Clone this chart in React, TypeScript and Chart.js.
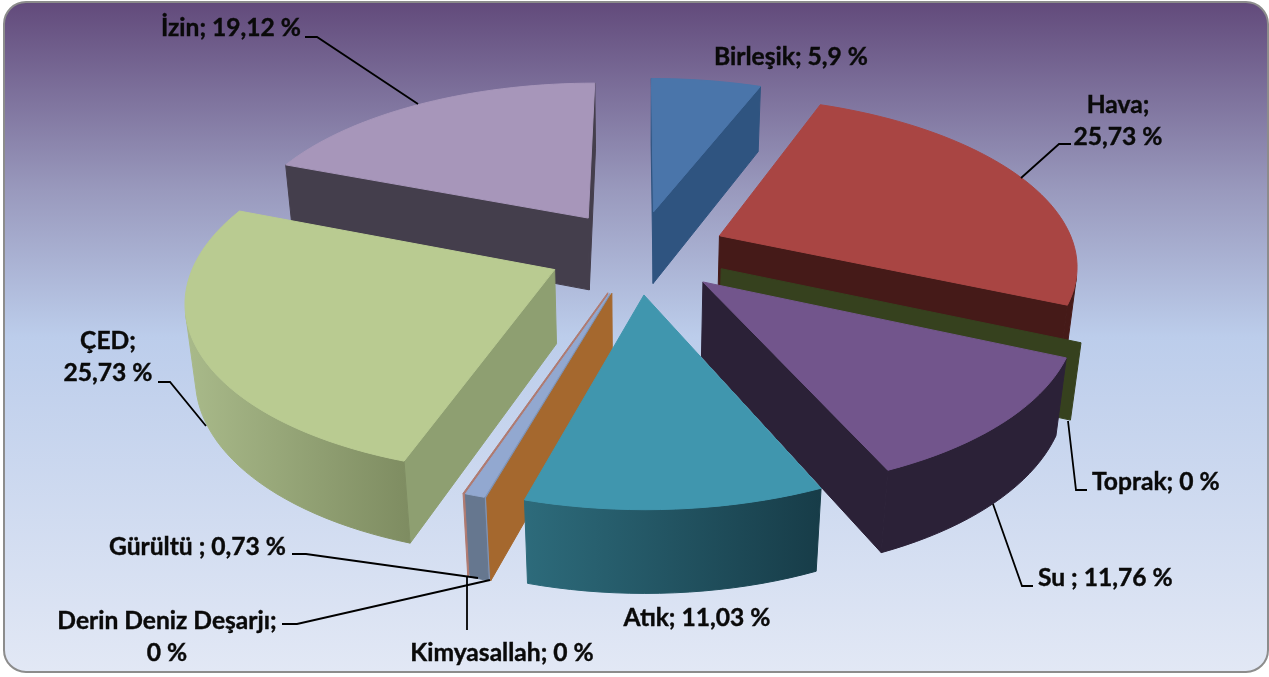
import React, { useEffect, useRef } from "react";
import { Chart, registerables } from "chart.js";

Chart.register(...registerables);

const categories = ["Birleşik", "Hava", "Toprak", "Su ", "Atık", "Kimyasallah", "Gürültü ", "Derin Deniz Deşarjı", "ÇED", "İzin"];
const values = [5.9, 25.73, 0, 11.76, 11.03, 0, 0.73, 0, 25.73, 19.12];
const topColors = ["#4a75aa", "#a94543", "#36411e", "#72558c", "#4096ae", "#a5682e", "#92a8d0", "#b07a70", "#b9cb91", "#a796ba"];
const edgeColors = ["#2f5480", "#451a18", "#36411e", "#2b2137", "#245462", "#a5682e", "#7f93b5", "#b07a70", "#8e9f71", "#443e4c"];
const rimStops = [
  ["#2f5480", "#2f5480"],
  ["#451a18", "#451a18"],
  ["#36411e", "#36411e"],
  ["#2b2137", "#2b2137"],
  ["#2d6b7b", "#173c48"],
  ["#a5682e", "#a5682e"],
  ["#66778f", "#66778f"],
  ["#b07a70", "#b07a70"],
  ["#a9ba8a", "#7e8c61"],
  ["#443e4c", "#443e4c"],
];

// anchor: x, y (middle of first line), align; extra line breaks; leader polyline
const labelLayout: any[] = [
  { x: 791, y: 57, a: "center", br: false, lead: [] },
  { x: 1118, y: 105, a: "center", br: true, lead: [[1071, 144], [1059, 144], [1021, 178]] },
  { x: 1092, y: 482, a: "left", br: false, lead: [[1087, 490], [1076, 490], [1068, 421]] },
  { x: 1038, y: 578, a: "left", br: false, lead: [[1033, 586], [1022, 586], [993, 504]] },
  { x: 697, y: 618, a: "center", br: false, lead: [] },
  { x: 502, y: 653, a: "center", br: false, lead: [[467, 630], [467, 576]] },
  { x: 109, y: 547, a: "left", br: false, lead: [[292, 554], [306, 554], [478, 578]] },
  { x: 167, y: 621, a: "center", br: true, lead: [[282, 624], [297, 624], [490, 580]] },
  { x: 108, y: 341, a: "center", br: true, lead: [[158, 382], [170, 382], [206, 426]] },
  { x: 231, y: 28, a: "center", br: false, lead: [[305, 37], [317, 37], [418, 104]] },
];

const FONT = 'bold 24.6px Lato, "Noto Sans", sans-serif';
const EXPLODE = 90;
const PERSP = 0.00044;
const PERSP_Z = 0.0003;
const TILT = 0.465;
const DEPTH = 75;
const STEP = Math.PI / 90;

function fmt(v: number) {
  return String(v).replace(".", ",");
}

const pie3d = {
  id: "pie3d",
  beforeDraw(chart: any) {
    const ctx = chart.ctx;
    const g = ctx.createLinearGradient(0, 2, 0, 672);
    g.addColorStop(0, "#624a7b");
    g.addColorStop(0.28, "#9999bd");
    g.addColorStop(0.5, "#bccdeb");
    g.addColorStop(1, "#e2e8f5");
    ctx.save();
    ctx.beginPath();
    ctx.roundRect(4, 2, 1264, 670, 22);
    ctx.fillStyle = g;
    ctx.fill();
    ctx.lineWidth = 2;
    ctx.strokeStyle = "#8c8c8c";
    ctx.stroke();
    ctx.restore();
  },
  beforeDatasetsDraw(chart: any) {
    const ctx = chart.ctx;
    const meta = chart.getDatasetMeta(0);
    const arcs = meta.data;
    const cx0 = arcs[0].x + 3;
    const cy0 = arcs[0].y - 87;
    const R = arcs[0].outerRadius * 1.053;
    const proj = (X: number, Y: number, Z: number) => {
      const w = 1 - PERSP * Y + PERSP_Z * Z;
      return [cx0 + X / w, cy0 + (TILT * Y + Z) / w];
    };
    const area = (q: number[][]) => {
      let s = 0;
      q.forEach((p, i) => {
        const n = q[(i + 1) % q.length];
        s += p[0] * n[1] - n[0] * p[1];
      });
      return s;
    };
    const fillPoly = (q: number[][], color: any) => {
      ctx.beginPath();
      q.forEach((p, i) => (i ? ctx.lineTo(p[0], p[1]) : ctx.moveTo(p[0], p[1])));
      ctx.closePath();
      ctx.fillStyle = color;
      ctx.fill();
      ctx.strokeStyle = color;
      ctx.lineWidth = 1;
      ctx.stroke();
    };
    const items = arcs.map((arc: any, i: number) => {
      const a0 = arc.startAngle;
      const a1 = arc.endAngle;
      const mid = (a0 + a1) / 2;
      return { arc, i, a0, a1, mid, key: Math.sin(mid) };
    });
    items.sort((p: any, q: any) => p.key - q.key);
    items.forEach(({ arc, i, a0, a1, mid }: any) => {
      const ox = Math.cos(mid) * EXPLODE;
      const oy = Math.sin(mid) * EXPLODE;
      const rim = (a: number, z: number) => proj(ox + Math.cos(a) * R, oy + Math.sin(a) * R, z);
      const tipT = proj(ox, oy, 0);
      const tipB = proj(ox, oy, DEPTH);
      const zero = a1 - a0 < 1e-6;
      const startQ = [tipT, rim(a0, 0), rim(a0, DEPTH), tipB];
      const endQ = [rim(a1, 0), tipT, tipB, rim(a1, DEPTH)];
      if (zero) {
        fillPoly(startQ, edgeColors[i]);
        return;
      }
      if (area(startQ) < 0) fillPoly(startQ, edgeColors[i]);
      if (area(endQ) < 0) fillPoly(endQ, edgeColors[i]);
      const n = Math.max(2, Math.ceil((a1 - a0) / STEP));
      const pts: number[] = [];
      for (let k = 0; k <= n; k++) pts.push(a0 + ((a1 - a0) * k) / n);
      const vis: number[] = [];
      for (let k = 0; k < n; k++) {
        const q = [rim(pts[k], 0), rim(pts[k + 1], 0), rim(pts[k + 1], DEPTH), rim(pts[k], DEPTH)];
        if (area(q) < 0) {
          if (!vis.length) vis.push(pts[k]);
          vis.push(pts[k + 1]);
        }
      }
      if (vis.length) {
        const poly = [...vis.map((a) => rim(a, 0)), ...vis.slice().reverse().map((a) => rim(a, DEPTH))];
        const xs = poly.map((p) => p[0]);
        const g = ctx.createLinearGradient(Math.min(...xs), 0, Math.max(...xs), 0);
        g.addColorStop(0, rimStops[i][0]);
        g.addColorStop(1, rimStops[i][1]);
        fillPoly(poly, g);
      }
      const top = [tipT, ...pts.map((a) => rim(a, 0))];
      fillPoly(top, arc.options.backgroundColor);
    });
    return false;
  },
  afterDraw(chart: any) {
    const ctx = chart.ctx;
    ctx.save();
    ctx.font = FONT;
    ctx.fillStyle = "#0a0a0a";
    ctx.strokeStyle = "#0a0a0a";
    ctx.textBaseline = "middle";
    const put = (s: string, x: number, y: number) => {
      ctx.lineWidth = 0.4;
      ctx.fillText(s, x, y);
      ctx.strokeText(s, x, y);
    };
    labelLayout.forEach((l, i) => {
      const val = `${fmt(values[i])} %`;
      ctx.textAlign = l.a;
      if (l.br) {
        put(`${categories[i]};`, l.x, l.y);
        put(val, l.x, l.y + 32);
      } else {
        put(`${categories[i]}; ${val}`, l.x, l.y);
      }
      if (l.lead.length) {
        ctx.beginPath();
        l.lead.forEach((p: number[], k: number) => (k ? ctx.lineTo(p[0], p[1]) : ctx.moveTo(p[0], p[1])));
        ctx.lineWidth = 1.8;
        ctx.strokeStyle = "#000";
        ctx.stroke();
        ctx.strokeStyle = "#0a0a0a";
      }
    });
    ctx.restore();
  },
};

export default function App() {
  const ref = useRef<HTMLCanvasElement>(null);
  useEffect(() => {
    document.body.style.margin = "0";
    const chart = new Chart(ref.current as HTMLCanvasElement, {
      type: "pie",
      data: {
        labels: categories,
        datasets: [{ data: values, backgroundColor: topColors, borderWidth: 0 }],
      },
      options: {
        responsive: false,
        animation: false,
        layout: { padding: 0 },
        plugins: { legend: { display: false }, title: { display: false }, tooltip: { enabled: false } },
      },
      plugins: [pie3d],
    } as any);
    return () => chart.destroy();
  }, []);
  return <canvas ref={ref} width={1269} height={677} style={{ display: "block" }} />;
}
